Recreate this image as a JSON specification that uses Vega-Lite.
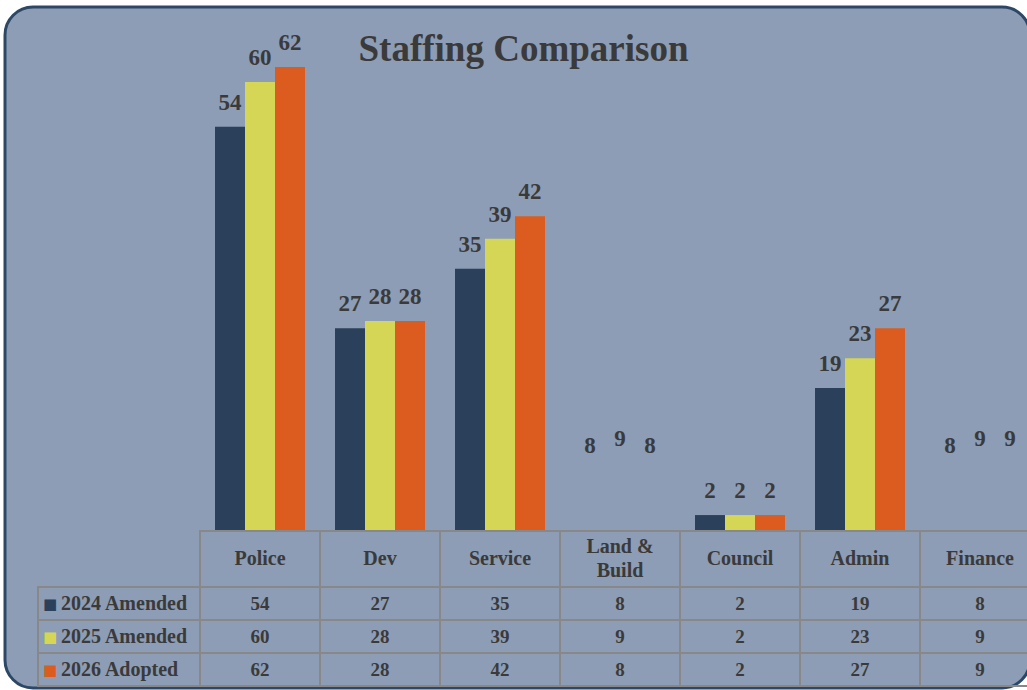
{
  "$schema": "https://vega.github.io/schema/vega-lite/v6.json",
  "autosize": "none",
  "width": 1025,
  "height": 681,
  "padding": {"left": 5, "top": 7, "right": 0, "bottom": 2},
  "background": "#ffffff",
  "config": {
    "view": {"fill": "#8d9db5", "stroke": "#2d4866", "strokeWidth": 3, "cornerRadius": 28},
    "text": {"font": "Liberation Serif", "fontWeight": "bold", "color": "#3a3a3a"}
  },
  "title": {
    "text": "Staffing Comparison",
    "font": "Liberation Serif",
    "fontWeight": "bold",
    "fontSize": 37,
    "color": "#3a3a3a",
    "anchor": "middle",
    "frame": "group",
    "baseline": "alphabetic",
    "offset": -91,
    "dx": 6
  },
  "datasets": {
    "staff": [
      {"category": "Police", "series": "2024 Amended", "value": 54},
      {"category": "Police", "series": "2025 Amended", "value": 60},
      {"category": "Police", "series": "2026 Adopted", "value": 62},
      {"category": "Dev", "series": "2024 Amended", "value": 27},
      {"category": "Dev", "series": "2025 Amended", "value": 28},
      {"category": "Dev", "series": "2026 Adopted", "value": 28},
      {"category": "Service", "series": "2024 Amended", "value": 35},
      {"category": "Service", "series": "2025 Amended", "value": 39},
      {"category": "Service", "series": "2026 Adopted", "value": 42},
      {"category": "Land & Build", "series": "2024 Amended", "value": 8},
      {"category": "Land & Build", "series": "2025 Amended", "value": 9},
      {"category": "Land & Build", "series": "2026 Adopted", "value": 8},
      {"category": "Council", "series": "2024 Amended", "value": 2},
      {"category": "Council", "series": "2025 Amended", "value": 2},
      {"category": "Council", "series": "2026 Adopted", "value": 2},
      {"category": "Admin", "series": "2024 Amended", "value": 19},
      {"category": "Admin", "series": "2025 Amended", "value": 23},
      {"category": "Admin", "series": "2026 Adopted", "value": 27},
      {"category": "Finance", "series": "2024 Amended", "value": 8},
      {"category": "Finance", "series": "2025 Amended", "value": 9},
      {"category": "Finance", "series": "2026 Adopted", "value": 9}
    ],
    "heads": [
      {"category": "Police", "label": "Police"},
      {"category": "Dev", "label": "Dev"},
      {"category": "Service", "label": "Service"},
      {"category": "Land & Build", "label": "Land &\nBuild"},
      {"category": "Council", "label": "Council"},
      {"category": "Admin", "label": "Admin"},
      {"category": "Finance", "label": "Finance"}
    ]
  },
  "resolve": {"scale": {"x": "independent", "y": "independent"}},
  "layer": [
    {
      "data": {"name": "staff"},
      "mark": {"type": "bar"},
      "encoding": {
        "x": {"field": "category", "type": "nominal", "axis": null,
              "scale": {"domain": ["Police", "Dev", "Service", "Land & Build", "Council", "Admin", "Finance"], "range": [195, 1035], "paddingInner": 0, "paddingOuter": 0}},
        "xOffset": {"field": "series", "type": "nominal",
              "scale": {"domain": ["2024 Amended", "2025 Amended", "2026 Adopted"], "paddingInner": 0, "paddingOuter": 0.5}},
        "y": {"field": "value", "type": "quantitative", "axis": null,
              "scale": {"domain": [0, 62], "range": [523, 60], "nice": false}},
        "color": {"field": "series", "type": "nominal", "legend": null,
              "scale": {"domain": ["2024 Amended", "2025 Amended", "2026 Adopted"], "range": ["#2b405b", "#d5d655", "#dc5c1f"]}},
        "opacity": {"condition": {"test": "datum.category === 'Land & Build' || datum.category === 'Finance'", "value": 0}, "value": 1}
      }
    },
    {
      "data": {"name": "staff"},
      "mark": {"type": "text", "fontSize": 23, "baseline": "alphabetic", "dy": -17},
      "encoding": {
        "x": {"field": "category", "type": "nominal", "axis": null,
              "scale": {"domain": ["Police", "Dev", "Service", "Land & Build", "Council", "Admin", "Finance"], "range": [195, 1035], "paddingInner": 0, "paddingOuter": 0}},
        "xOffset": {"field": "series", "type": "nominal",
              "scale": {"domain": ["2024 Amended", "2025 Amended", "2026 Adopted"], "paddingInner": 0, "paddingOuter": 0.5}},
        "y": {"field": "value", "type": "quantitative", "axis": null,
              "scale": {"domain": [0, 62], "range": [523, 60], "nice": false}},
        "text": {"field": "value", "type": "quantitative"}
      }
    },
    {
      "data": {"name": "heads"},
      "mark": {"type": "rect", "fill": null, "fillOpacity": 0, "stroke": "#888888", "strokeWidth": 2},
      "encoding": {
        "x": {"field": "category", "type": "nominal", "axis": null,
              "scale": {"domain": ["Police", "Dev", "Service", "Land & Build", "Council", "Admin", "Finance"], "range": [195, 1035], "paddingInner": 0, "paddingOuter": 0}},
        "y": {"datum": "Header", "type": "nominal", "axis": null,
              "scale": {"type": "band", "domain": ["Header"], "range": [524, 580], "paddingInner": 0, "paddingOuter": 0}}
      }
    },
    {
      "data": {"name": "heads"},
      "transform": [{"filter": "datum.category !== 'Land & Build'"}],
      "mark": {"type": "text", "fontSize": 20, "baseline": "middle"},
      "encoding": {
        "x": {"field": "category", "type": "nominal", "axis": null,
              "scale": {"domain": ["Police", "Dev", "Service", "Land & Build", "Council", "Admin", "Finance"], "range": [195, 1035], "paddingInner": 0, "paddingOuter": 0}},
        "y": {"datum": "Header", "type": "nominal", "axis": null,
              "scale": {"type": "band", "domain": ["Header"], "range": [524, 580], "paddingInner": 0, "paddingOuter": 0}},
        "text": {"field": "label", "type": "nominal"}
      }
    },
    {
      "data": {"name": "heads"},
      "transform": [{"filter": "datum.category === 'Land & Build'"}],
      "mark": {"type": "text", "fontSize": 20, "baseline": "middle", "lineBreak": "\n", "lineHeight": 24, "dy": -12},
      "encoding": {
        "x": {"field": "category", "type": "nominal", "axis": null,
              "scale": {"domain": ["Police", "Dev", "Service", "Land & Build", "Council", "Admin", "Finance"], "range": [195, 1035], "paddingInner": 0, "paddingOuter": 0}},
        "y": {"datum": "Header", "type": "nominal", "axis": null,
              "scale": {"type": "band", "domain": ["Header"], "range": [524, 580], "paddingInner": 0, "paddingOuter": 0}},
        "text": {"field": "label", "type": "nominal"}
      }
    },
    {
      "data": {"name": "staff"},
      "mark": {"type": "rect", "fill": null, "fillOpacity": 0, "stroke": "#888888", "strokeWidth": 2},
      "encoding": {
        "x": {"field": "category", "type": "nominal", "axis": null,
              "scale": {"domain": ["Police", "Dev", "Service", "Land & Build", "Council", "Admin", "Finance"], "range": [195, 1035], "paddingInner": 0, "paddingOuter": 0}},
        "y": {"field": "series", "type": "nominal", "axis": null,
              "scale": {"type": "band", "domain": ["2024 Amended", "2025 Amended", "2026 Adopted"], "range": [580, 679], "paddingInner": 0, "paddingOuter": 0}}
      }
    },
    {
      "data": {"name": "staff"},
      "mark": {"type": "text", "fontSize": 19, "baseline": "middle"},
      "encoding": {
        "x": {"field": "category", "type": "nominal", "axis": null,
              "scale": {"domain": ["Police", "Dev", "Service", "Land & Build", "Council", "Admin", "Finance"], "range": [195, 1035], "paddingInner": 0, "paddingOuter": 0}},
        "y": {"field": "series", "type": "nominal", "axis": null,
              "scale": {"type": "band", "domain": ["2024 Amended", "2025 Amended", "2026 Adopted"], "range": [580, 679], "paddingInner": 0, "paddingOuter": 0}},
        "text": {"field": "value", "type": "quantitative"}
      }
    },
    {
      "data": {"name": "staff"},
      "transform": [{"filter": "datum.category === 'Police'"}],
      "mark": {"type": "rect", "fill": null, "fillOpacity": 0, "stroke": "#888888", "strokeWidth": 2},
      "encoding": {
        "x": {"datum": "Legend", "type": "nominal", "axis": null,
              "scale": {"type": "band", "domain": ["Legend"], "range": [33, 195], "paddingInner": 0, "paddingOuter": 0}},
        "y": {"field": "series", "type": "nominal", "axis": null,
              "scale": {"type": "band", "domain": ["2024 Amended", "2025 Amended", "2026 Adopted"], "range": [580, 679], "paddingInner": 0, "paddingOuter": 0}}
      }
    },
    {
      "data": {"name": "staff"},
      "transform": [{"filter": "datum.category === 'Police'"}],
      "mark": {"type": "text", "text": "■", "font": "DejaVu Sans", "fontWeight": "normal", "fontSize": 15, "baseline": "middle", "align": "center", "dx": 12},
      "encoding": {
        "x": {"datum": "Legend", "type": "nominal", "axis": null, "bandPosition": 0,
              "scale": {"type": "band", "domain": ["Legend"], "range": [33, 195], "paddingInner": 0, "paddingOuter": 0}},
        "y": {"field": "series", "type": "nominal", "axis": null,
              "scale": {"type": "band", "domain": ["2024 Amended", "2025 Amended", "2026 Adopted"], "range": [580, 679], "paddingInner": 0, "paddingOuter": 0}},
        "color": {"field": "series", "type": "nominal", "legend": null,
              "scale": {"domain": ["2024 Amended", "2025 Amended", "2026 Adopted"], "range": ["#2b405b", "#d5d655", "#dc5c1f"]}}
      }
    },
    {
      "data": {"name": "staff"},
      "transform": [{"filter": "datum.category === 'Police'"}],
      "mark": {"type": "text", "fontSize": 20, "baseline": "middle", "align": "left", "dx": 23},
      "encoding": {
        "x": {"datum": "Legend", "type": "nominal", "axis": null, "bandPosition": 0,
              "scale": {"type": "band", "domain": ["Legend"], "range": [33, 195], "paddingInner": 0, "paddingOuter": 0}},
        "y": {"field": "series", "type": "nominal", "axis": null,
              "scale": {"type": "band", "domain": ["2024 Amended", "2025 Amended", "2026 Adopted"], "range": [580, 679], "paddingInner": 0, "paddingOuter": 0}},
        "text": {"field": "series", "type": "nominal"}
      }
    }
  ]
}
